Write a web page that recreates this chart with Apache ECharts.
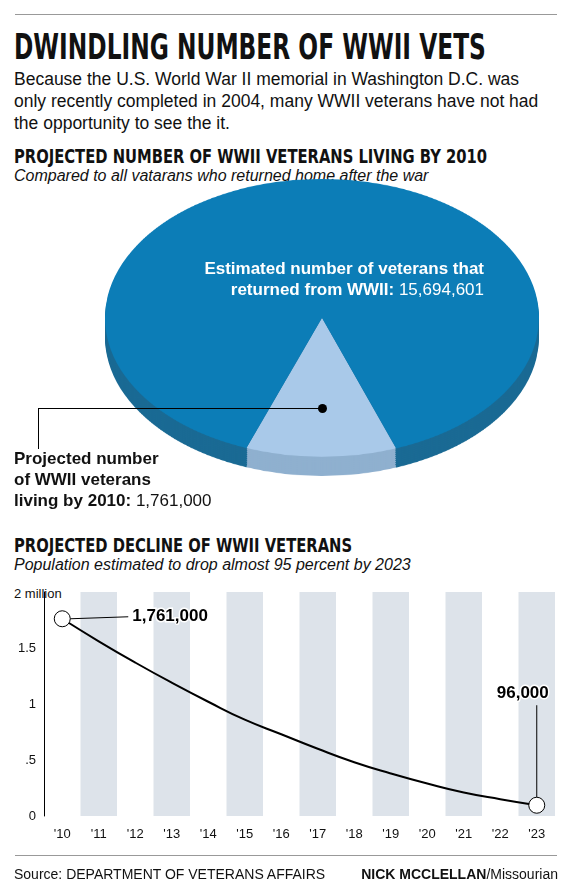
<!DOCTYPE html>
<html><head><meta charset="utf-8">
<script src="https://cdn.jsdelivr.net/npm/echarts@6/dist/echarts.min.js"></script>
<style>
body{margin:0;width:570px;height:891px;position:relative;background:#fff;font-family:"Liberation Sans",Arial,sans-serif;color:#111;overflow:hidden}
.a{position:absolute}
.cond{font-family:"DejaVu Sans Condensed","DejaVu Sans",sans-serif;font-weight:bold;white-space:nowrap;transform-origin:top left}
</style></head><body>
<div class="a" style="left:15px;top:14px;width:542px;border-top:1px solid #999"></div>
<div class="a cond" style="left:14px;top:26px;font-size:36px;transform:scaleX(0.72)">DWINDLING NUMBER OF WWII VETS</div>
<div class="a" style="left:14px;top:68px;width:540px;font-size:17.5px;line-height:22px">Because the U.S. World War II memorial in Washington D.C. was only recently completed in 2004, many WWII veterans have not had the opportunity to see the it.</div>
<div class="a cond" style="left:14px;top:144px;font-size:20px;transform:scaleX(0.82)">PROJECTED NUMBER OF WWII VETERANS LIVING BY 2010</div>
<div class="a" style="left:14px;top:167px;font-size:16px;font-style:italic">Compared to all vatarans who returned home after the war</div>
<div class="a" style="left:102px;top:177px;width:440px;height:480px;transform:scaleY(0.64);transform-origin:top left" id="pie"></div>
<div class="a" style="left:190px;top:258px;width:294px;text-align:right;color:#fff;font-size:17px;line-height:21px"><b>Estimated number of veterans that returned from WWII:</b> 15,694,601</div>
<div class="a" style="left:14px;top:448px;font-size:17px;line-height:21px"><b>Projected number<br>of WWII veterans<br>living by 2010:</b> 1,761,000</div>
<div class="a" style="left:38px;top:408px;width:284px;height:40px;border-top:1px solid #000;border-left:1px solid #000"></div>
<div class="a" style="left:318px;top:404px;width:9px;height:9px;border-radius:50%;background:#000"></div>
<div class="a cond" style="left:14px;top:533px;font-size:20px;transform:scaleX(0.82)">PROJECTED DECLINE OF WWII VETERANS</div>
<div class="a" style="left:14px;top:556px;font-size:16px;font-style:italic">Population estimated to drop almost 95 percent by 2023</div>
<div class="a" style="left:14px;top:586px;font-size:13px">2 million</div>
<div class="a" id="line" style="left:0;top:0;width:570px;height:891px"></div>
<div class="a" style="left:15px;top:855px;width:542px;border-top:1px solid #999"></div>
<div class="a" style="left:14px;top:866px;font-size:14px">Source: DEPARTMENT OF VETERANS AFFAIRS</div>
<div class="a" style="right:12px;top:866px;font-size:14px"><b>NICK MCCLELLAN</b>/Missourian</div>
<script>
const pieNames = ['Living by 2010', 'Returned from WWII'];
const pieValues = [1761000, 15694601 - 1761000];
const years = ["'10","'11","'12","'13","'14","'15","'16","'17","'18","'19","'20","'21","'22","'23"];
const veterans = [1.761, 1.56, 1.37, 1.19, 1.02, 0.86, 0.73, 0.6, 0.48, 0.38, 0.29, 0.21, 0.15, 0.096];

const pie = echarts.init(document.getElementById('pie'));
const pieData = (c1, c2) => pieNames.map((n, i) => ({name: n, value: pieValues[i], itemStyle: {color: i ? c2 : c1}}));
const pieSeries = [];
for (let k = 30; k >= 2; k -= 3) {
  pieSeries.push({type: 'pie', radius: 217, center: [220, 220 + k], startAngle: 290, silent: true,
    label: {show: false}, animation: false, data: pieData('#8fb0cf', '#1a6a94'),
    itemStyle: {borderWidth: 0}});
}
pieSeries.push({type: 'pie', radius: 217, center: [220, 220], startAngle: 290, silent: true,
  label: {show: false}, animation: false, data: pieData('#a9c9e9', '#0c7db7'),
  itemStyle: {borderWidth: 0}});
pie.setOption({series: pieSeries});

const line = echarts.init(document.getElementById('line'));
line.setOption({
  animation: false,
  grid: {left: 44, right: 15, top: 592, bottom: 75},
  xAxis: {type: 'category', data: years, boundaryGap: true,
    axisLine: {show: false}, axisTick: {show: false},
    axisLabel: {color: '#111', fontSize: 13, margin: 12},
    splitArea: {show: true, areaStyle: {color: ['rgba(0,0,0,0)', '#dde3ea']}}},
  yAxis: {type: 'value', min: 0, max: 2, interval: 0.5,
    axisLine: {show: true, lineStyle: {color: '#000'}}, axisTick: {show: false}, splitLine: {show: false},
    axisLabel: {color: '#111', fontSize: 13, margin: 8,
      formatter: v => v === 2 ? '' : (v === 0.5 ? '.5' : String(v))}},
  series: [{type: 'line', data: veterans.map((v, i) => ({value: v,
      symbol: (i === 0 || i === veterans.length - 1) ? 'circle' : 'none'})),
    smooth: true, symbolSize: 16, lineStyle: {color: '#000', width: 2},
    itemStyle: {color: '#fff', borderColor: '#000', borderWidth: 1}}]
});
const p0 = line.convertToPixel({seriesIndex: 0}, [0, veterans[0]]);
const n = veterans.length - 1;
const p1 = line.convertToPixel({seriesIndex: 0}, [n, veterans[n]]);
line.setOption({graphic: [
  {type: 'line', shape: {x1: p0[0] + 8, y1: p0[1], x2: p0[0] + 66, y2: p0[1] - 2}, style: {stroke: '#000', lineWidth: 1}},
  {type: 'text', x: p0[0] + 70, y: p0[1] - 2, style: {text: '1,761,000', font: 'bold 17px "Liberation Sans"', fill: '#000', verticalAlign: 'middle', stroke: '#fff', lineWidth: 3}},
  {type: 'line', shape: {x1: p1[0], y1: p1[1] - 8, x2: p1[0], y2: p1[1] - 100}, style: {stroke: '#000', lineWidth: 1}},
  {type: 'text', x: p1[0] + 12, y: p1[1] - 112, style: {text: '96,000', font: 'bold 17px "Liberation Sans"', fill: '#000', align: 'right', verticalAlign: 'middle', stroke: '#fff', lineWidth: 3}}
]});
</script>
</body></html>
